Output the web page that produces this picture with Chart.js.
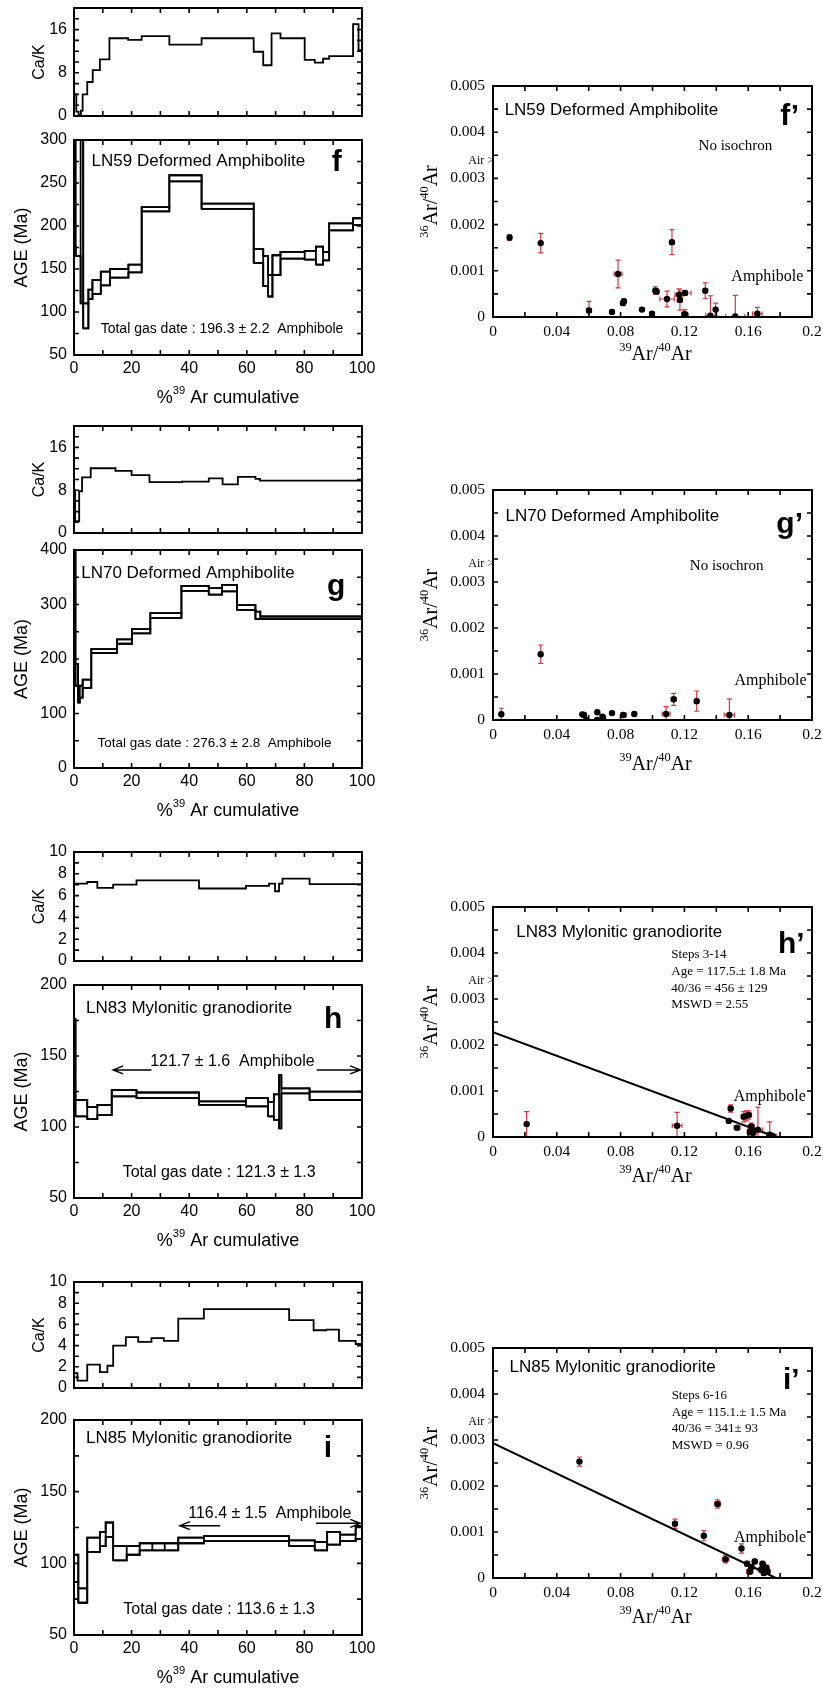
<!DOCTYPE html>
<html>
<head>
<meta charset="utf-8">
<script src="https://cdn.jsdelivr.net/npm/chart.js@4.4.1/dist/chart.umd.min.js"></script>
<style>
  html, body { margin: 0; padding: 0; background: #fff; }
  #page { position: relative; width: 823px; height: 1690px; overflow: hidden; background: #fff; }
  canvas { position: absolute; }
</style>
</head>
<body>
<div id="page"></div>
<script>
// ---- LN59 (f) ----
const fCaEdges = [0, 0.8, 1.6, 2.4, 3.0, 4.6, 6.5, 9.0, 12.3, 18.8, 23.5, 33.1, 44.3, 62.4, 65.7, 68.6, 71.7, 80.1, 83.6, 86.5, 88.6, 96.9, 98.8, 100];
const fCaValues = [4.0, 0.8, 0.2, 1.0, 4.0, 6.3, 8.5, 10.5, 14.4, 14.1, 14.8, 13.2, 14.4, 11.9, 9.4, 15.3, 14.4, 10.4, 9.9, 10.6, 11.1, 17.0, 12.2];
const fAgeEdges = [0, 0.6, 2.3, 3.2, 5.0, 6.4, 9.3, 12.5, 18.9, 23.5, 33.1, 44.3, 62.4, 65.7, 67.4, 68.9, 71.7, 80.1, 84.0, 86.5, 88.6, 96.9, 100];
const fAgeLow = [175, 165, 110, 81, 115, 121, 131, 140, 146, 217, 252, 220, 157, 130, 118, 143, 162, 161, 155, 160, 195, 201];
const fAgeHigh = [330, 330, 330, 110, 126, 137, 147, 150, 155, 222, 259, 226, 173, 165, 143, 166, 170, 171, 176, 170, 203, 209];
const fIsoX = [0.0104, 0.0299, 0.0602, 0.0746, 0.0784, 0.0815, 0.0821, 0.0934, 0.0997, 0.1018, 0.1026, 0.1091, 0.1122, 0.1166, 0.1172, 0.1204, 0.1200, 0.1206, 0.1331, 0.1363, 0.1396, 0.1519, 0.1657];
const fIsoY = [0.00172, 0.00160, 0.00014, 0.00011, 0.00093, 0.00030, 0.00034, 0.00016, 0.00007, 0.00057, 0.00055, 0.00039, 0.00162, 0.00048, 0.00037, 0.00052, 0.00006, 0.00005, 0.00057, 0.00003, 0.00016, 0.00001, 0.00007];
const fIsoXErr = [0.0008, 0.0005, 0.0015, 0.0008, 0.0025, 0.0008, 0.0008, 0.0012, 0.0008, 0.0012, 0.0012, 0.0045, 0.0015, 0.0025, 0.0015, 0.0038, 0.0015, 0.0015, 0.0012, 0.0030, 0.0010, 0.0060, 0.0030];
const fIsoYErr = [0.00006, 0.00021, 0.00020, 0.00004, 0.00030, 0.00005, 0.00005, 0.00004, 0.00004, 0.00008, 0.00006, 0.00017, 0.00027, 0.00013, 0.00022, 0.00005, 0.00010, 0.00005, 0.00017, 0.00043, 0.00014, 0.00046, 0.00014];

// ---- LN70 (g) ----
const gCaEdges = [0, 0.4, 1.8, 2.8, 5.8, 14.4, 20.0, 26.2, 37.5, 46.8, 51.6, 56.9, 63.0, 64.6, 100];
const gCaValues = [8.0, 2.2, 7.8, 10.4, 12.1, 11.6, 10.8, 9.5, 9.6, 10.2, 9.1, 10.5, 10.1, 9.8];
const gAgeEdges = [0, 0.5, 1.4, 2.0, 3.0, 6.0, 14.9, 20.1, 26.5, 37.3, 46.8, 51.4, 56.6, 63.0, 64.7, 100];
const gAgeLow = [190, 151, 120, 129, 147, 211, 228, 247, 275, 325, 318, 324, 290, 273, 273];
const gAgeHigh = [420, 191, 150, 151, 162, 218, 236, 255, 284, 334, 330, 336, 299, 287, 278];
const gIsoX = [0.0052, 0.0299, 0.0560, 0.0570, 0.0585, 0.0654, 0.0652, 0.0686, 0.0690, 0.0746, 0.0817, 0.0886, 0.1085, 0.1133, 0.1277, 0.1482];
const gIsoY = [0.000125, 0.00143, 0.000123, 0.00011, 0.0, 0.000167, 0.0, 0.00007, 0.00004, 0.00015, 0.00011, 0.00013, 0.00013, 0.00045, 0.00041, 0.00011];
const gIsoXErr = [0.0006, 0.0006, 0.0010, 0.0015, 0.0008, 0.0008, 0.0008, 0.0012, 0.0008, 0.0010, 0.0018, 0.0012, 0.0025, 0.0015, 0.0012, 0.0032];
const gIsoYErr = [0.00013, 0.00020, 0.00003, 0.00003, 0.00003, 0.00003, 0.00003, 0.00005, 0.00004, 0.00003, 0.00004, 0.00003, 0.00016, 0.00013, 0.00022, 0.00035];

// ---- LN83 (h) ----
const hCaEdges = [0, 4.6, 8.1, 13.6, 21.7, 43.4, 59.7, 67.7, 69.8, 71.2, 72.4, 81.8, 100];
const hCaValues = [7.1, 7.25, 6.7, 7.0, 7.4, 6.65, 6.9, 7.1, 6.4, 7.1, 7.55, 7.05];
const hAgeEdges = [0, 0.5, 4.6, 8.1, 13.1, 21.7, 43.4, 59.7, 67.4, 69.4, 71.2, 72.0, 81.8, 100];
const hAgeLow = [122, 107.5, 105.5, 108.6, 121.5, 120.3, 115.6, 114.5, 107.5, 105, 99, 123.7, 119];
const hAgeHigh = [176, 119, 114, 115.5, 126, 124.3, 118, 120.3, 117.7, 123, 136.5, 127.2, 124.9];
const hIsoX = [0.0211, 0.1154, 0.1478, 0.1490, 0.1530, 0.1572, 0.1588, 0.1603, 0.1620, 0.1610, 0.1630, 0.1661, 0.1735, 0.1755];
const hIsoY = [0.00028, 0.000246, 0.00035, 0.00062, 0.00020, 0.00044, 0.00046, 0.00048, 0.00023, 0.00011, 0.00009, 0.00016, 0.00005, 0.00002];
const hIsoXErr = [0.0006, 0.0030, 0.0010, 0.0012, 0.0018, 0.0015, 0.0015, 0.0018, 0.0018, 0.0015, 0.0020, 0.0030, 0.0020, 0.0025];
const hIsoYErr = [0.00027, 0.00029, 0.00004, 0.00008, 0.00004, 0.00011, 0.00011, 0.00009, 0.00007, 0.00006, 0.00006, 0.00049, 0.00028, 0.00004];
const hLineX = [0, 0.1772];
const hLineY = [0.00228, 0];

// ---- LN85 (i) ----
const iCaEdges = [0, 1.2, 4.6, 9.0, 11.6, 13.6, 18.0, 22.3, 26.9, 31.2, 36.2, 45.1, 74.7, 83.2, 87.6, 92.0, 97.8, 100];
const iCaValues = [1.4, 0.7, 2.2, 1.5, 2.1, 4.0, 4.8, 4.35, 4.7, 4.45, 6.55, 7.45, 6.4, 5.45, 5.5, 4.45, 4.15];
const iAgeEdges = [0, 1.5, 4.6, 9.0, 11.0, 13.6, 18.3, 22.8, 27.2, 31.5, 36.2, 45.1, 74.7, 83.6, 87.9, 92.4, 97.8, 100];
const iAgeLow = [87, 72.5, 108, 112, 118.5, 102, 106, 109, 109, 109, 114, 115.5, 112, 109, 113, 115.5, 117];
const iAgeHigh = [106, 82.5, 118, 122, 128.5, 112, 112, 114, 114, 114, 118, 119, 116, 115, 122, 120, 126];
const iIsoX = [0.0542, 0.1141, 0.1322, 0.1408, 0.1458, 0.1558, 0.1593, 0.1610, 0.1620, 0.1641, 0.1683, 0.1690, 0.1694, 0.1698, 0.1714, 0.1721];
const iIsoY = [0.00253, 0.00118, 0.00092, 0.00161, 0.00041, 0.00064, 0.00031, 0.00014, 0.00024, 0.00036, 0.00018, 0.00031, 0.00027, 0.00011, 0.00022, 0.00014];
const iIsoXErr = [0.0008, 0.0012, 0.0010, 0.0018, 0.0020, 0.0012, 0.0015, 0.0020, 0.0015, 0.0015, 0.0020, 0.0015, 0.0015, 0.0015, 0.0015, 0.0015];
const iIsoYErr = [0.00010, 0.00010, 0.00011, 0.00009, 0.00008, 0.00010, 0.00005, 0.00006, 0.00005, 0.00005, 0.00006, 0.00005, 0.00005, 0.00005, 0.00006, 0.00006];
const iLineX = [0, 0.1773];
const iLineY = [0.00293, 0];

const AIR_RATIO = 1 / 295.5;

const SANS = '"Liberation Sans", Arial, Helvetica, sans-serif';
const SERIF = '"Liberation Serif", "Times New Roman", serif';

// --- helpers ---
function fmt(v) {
    return String(parseFloat(v.toPrecision(6)));
}

function axis(min, max, step, major, font, pad) {
    return {
        type: 'linear',
        min: min,
        max: max,
        grid: { display: false, drawTicks: false },
        border: { display: false },
        ticks: {
            stepSize: step,
            autoSkip: false,
            padding: pad,
            color: '#000',
            font: font,
            maxRotation: 0,
            minRotation: 0,
            callback: (v) => (major && Math.abs(v / major - Math.round(v / major)) < 1e-6) ? fmt(v) : ''
        }
    };
}

// one point per step start, plus the closing edge
function stepPoints(edges, values) {
    const pts = values.map((v, i) => ({ x: edges[i], y: v }));
    pts.push({ x: edges[edges.length - 1], y: values[values.length - 1] });
    return pts;
}

// closed outline of every plateau step
function spectrumPoints(edges, low, high) {
    const pts = [];
    for (let i = 0; i < low.length; i++) {
        pts.push({ x: edges[i], y: low[i] }, { x: edges[i], y: high[i] },
                 { x: edges[i + 1], y: high[i] }, { x: edges[i + 1], y: low[i] },
                 { x: edges[i], y: low[i] }, { x: edges[i + 1], y: null });
    }
    return pts;
}

function zipPoints(xs, ys) {
    return xs.map((x, i) => ({ x: x, y: ys[i] }));
}

function drawRich(ctx, parts, cx, cy, size, family) {
    const supSize = size * 0.62;
    let total = 0;
    const widths = parts.map(p => {
        ctx.font = (p[1] ? supSize : size) + 'px ' + family;
        const w = ctx.measureText(p[0]).width;
        total += w;
        return w;
    });
    let x = cx - total / 2;
    ctx.textAlign = 'left';
    ctx.textBaseline = 'middle';
    parts.forEach((p, i) => {
        ctx.font = (p[1] ? supSize : size) + 'px ' + family;
        ctx.fillText(p[0], x, p[1] ? cy - size * 0.38 : cy);
        x += widths[i];
    });
}

const decoPlugin = {
    id: 'deco',
    beforeDatasetsDraw(chart) {
        const { ctx, chartArea: a, scales: { x, y } } = chart;
        ctx.save();
        ctx.beginPath();
        ctx.rect(a.left, a.top, a.right - a.left, a.bottom - a.top);
        ctx.clip();
        ctx.strokeStyle = '#d8383e';
        ctx.lineWidth = 1.2;
        chart.data.datasets.forEach(ds => {
            if (!ds.errX) return;
            ds.data.forEach((p, i) => {
                const px = x.getPixelForValue(p.x), py = y.getPixelForValue(p.y);
                const x0 = x.getPixelForValue(p.x - ds.errX[i]), x1 = x.getPixelForValue(p.x + ds.errX[i]);
                const y0 = y.getPixelForValue(p.y - ds.errY[i]), y1 = y.getPixelForValue(p.y + ds.errY[i]);
                const c = 2.5;
                ctx.beginPath();
                ctx.moveTo(x0, py); ctx.lineTo(x1, py);
                ctx.moveTo(x0, py - c); ctx.lineTo(x0, py + c);
                ctx.moveTo(x1, py - c); ctx.lineTo(x1, py + c);
                ctx.moveTo(px, y0); ctx.lineTo(px, y1);
                ctx.moveTo(px - c, y0); ctx.lineTo(px + c, y0);
                ctx.moveTo(px - c, y1); ctx.lineTo(px + c, y1);
                ctx.stroke();
            });
        });
        ctx.restore();
    },
    afterDatasetsDraw(chart) {
        const { ctx, chartArea: a, scales: { x, y } } = chart;
        const L = 5;
        ctx.save();
        ctx.strokeStyle = '#000';
        ctx.lineWidth = 2;
        ctx.strokeRect(a.left, a.top, a.right - a.left, a.bottom - a.top);
        ctx.lineWidth = 1.6;
        ctx.beginPath();
        x.ticks.forEach(t => {
            const px = x.getPixelForValue(t.value);
            if (px <= a.left + 1 || px >= a.right - 1) return;
            ctx.moveTo(px, a.bottom); ctx.lineTo(px, a.bottom - L);
            ctx.moveTo(px, a.top); ctx.lineTo(px, a.top + L);
        });
        y.ticks.forEach(t => {
            const py = y.getPixelForValue(t.value);
            if (py <= a.top + 1 || py >= a.bottom - 1) return;
            ctx.moveTo(a.left, py); ctx.lineTo(a.left + L, py);
            ctx.moveTo(a.right, py); ctx.lineTo(a.right - L, py);
        });
        ctx.stroke();
        ctx.restore();
    },
    afterDraw(chart) {
        const d = chart.canvas._deco || {};
        const { ctx, chartArea: a, scales: { x, y } } = chart;
        ctx.save();
        ctx.fillStyle = '#000';
        ctx.strokeStyle = '#000';
        if (d.yTitle) {
            ctx.save();
            ctx.translate(a.left - d.yTitle.offset, (a.top + a.bottom) / 2);
            ctx.rotate(-Math.PI / 2);
            drawRich(ctx, d.yTitle.parts, 0, 0, d.yTitle.size, d.yTitle.family);
            ctx.restore();
        }
        if (d.xTitle) {
            drawRich(ctx, d.xTitle.parts, (a.left + a.right) / 2 + (d.xTitle.shift || 0),
                     a.bottom + d.xTitle.offset, d.xTitle.size, d.xTitle.family);
        }
        (d.texts || []).forEach(t => {
            ctx.font = (t.weight || 'normal') + ' ' + t.size + 'px ' + t.family;
            ctx.textAlign = t.align || 'center';
            ctx.textBaseline = 'middle';
            ctx.fillText(t.text, x.getPixelForValue(t.x), y.getPixelForValue(t.y));
        });
        (d.arrows || []).forEach(ar => {
            const x1 = x.getPixelForValue(ar.from), x2 = x.getPixelForValue(ar.to);
            const py = y.getPixelForValue(ar.y);
            const dir = Math.sign(x2 - x1);
            ctx.lineWidth = 1.5;
            ctx.beginPath();
            ctx.moveTo(x1, py); ctx.lineTo(x2, py);
            ctx.moveTo(x2 - dir * 10, py - 4); ctx.lineTo(x2, py); ctx.lineTo(x2 - dir * 10, py + 4);
            ctx.stroke();
        });
        if (d.air) {
            ctx.font = '12px ' + SERIF;
            ctx.textAlign = 'right';
            ctx.textBaseline = 'middle';
            ctx.fillText('Air >', a.left + 1, y.getPixelForValue(d.air));
        }
        ctx.restore();
    }
};

function makeChart(box, pad, xAxis, yAxis, datasets, deco) {
    const canvas = document.createElement('canvas');
    const w = box.w + pad.l + pad.r, h = box.h + pad.t + pad.b;
    canvas.width = w;
    canvas.height = h;
    canvas.style.left = (box.x - pad.l) + 'px';
    canvas.style.top = (box.y - pad.t) + 'px';
    canvas.style.width = w + 'px';
    canvas.style.height = h + 'px';
    document.getElementById('page').appendChild(canvas);
    canvas._deco = deco;
    xAxis.afterFit = s => { s.height = pad.b; s.paddingLeft = s.paddingRight = s.paddingTop = s.paddingBottom = 0; };
    yAxis.afterFit = s => { s.width = pad.l; s.paddingLeft = s.paddingRight = s.paddingTop = s.paddingBottom = 0; };
    return new Chart(canvas, {
        type: 'scatter',
        data: { datasets: datasets },
        options: {
            responsive: false,
            animation: false,
            devicePixelRatio: 1,
            layout: { padding: { left: 0, right: pad.r, top: pad.t, bottom: 0 } },
            plugins: { legend: { display: false }, tooltip: { enabled: false } },
            scales: { x: xAxis, y: yAxis }
        },
        plugins: [decoPlugin]
    });
}

// --- left column: Ca/K and age spectra ---
const LEFT_X = 74, LEFT_W = 288;
const tickSans = { family: SANS, size: 16 };
const caPad = { l: 74, r: 30, t: 10, b: 8 };
const agePad = { l: 74, r: 30, t: 12, b: 58 };
const cumTitle = { parts: [['%', false], ['39', true], [' Ar cumulative', false]], size: 18, family: SANS, offset: 43, shift: 10 };

function caChart(top, height, edges, values, yMax, yStep, yMajor) {
    makeChart({ x: LEFT_X, y: top, w: LEFT_W, h: height }, caPad,
        axis(0, 100, 10, null, tickSans, 4),
        axis(0, yMax, yStep, yMajor, tickSans, 7),
        [{ data: stepPoints(edges, values), showLine: true, stepped: 'before', borderColor: '#000', borderWidth: 1.8, pointRadius: 0 }],
        { yTitle: { parts: [['Ca/K', false]], size: 16, family: SANS, offset: 34 } });
}

function ageChart(top, height, edges, low, high, yMin, yMax, yStep, yMajor, texts, arrows) {
    const line = { showLine: true, borderColor: '#000', borderWidth: 1.8, pointRadius: 0 };
    makeChart({ x: LEFT_X, y: top, w: LEFT_W, h: height }, agePad,
        axis(0, 100, 10, 20, tickSans, 4),
        axis(yMin, yMax, yStep, yMajor, tickSans, 7),
        [
            Object.assign({ data: stepPoints(edges, high), stepped: 'before' }, line),
            Object.assign({ data: stepPoints(edges, low), stepped: 'before' }, line),
            Object.assign({ data: spectrumPoints(edges, low, high), spanGaps: false }, line)
        ],
        { yTitle: { parts: [['AGE (Ma)', false]], size: 18, family: SANS, offset: 52 }, xTitle: cumTitle, texts: texts, arrows: arrows || [] });
}

function label(x, y, text, size, align, family, weight) {
    return { x: x, y: y, text: text, size: size, align: align || 'center', family: family || SANS, weight: weight || 'normal' };
}

caChart(8, 108, fCaEdges, fCaValues, 20, 2, 8);
ageChart(140, 215, fAgeEdges, fAgeLow, fAgeHigh, 50, 300, 25, 50, [
    label(6.1, 275.6, 'LN59 Deformed Amphibolite', 17, 'left'),
    label(91.2, 273, 'f', 30, 'center', SANS, 'bold'),
    label(51.4, 79.8, 'Total gas date : 196.3 \u00b1 2.2  Amphibole', 14)
]);

caChart(426, 107, gCaEdges, gCaValues, 20, 2, 8);
ageChart(550, 218, gAgeEdges, gAgeLow, gAgeHigh, 0, 400, 50, 100, [
    label(2.5, 358, 'LN70 Deformed Amphibolite', 17, 'left'),
    label(91, 333, 'g', 30, 'center', SANS, 'bold'),
    label(48.8, 46, 'Total gas date : 276.3 \u00b1 2.8  Amphibole', 13.5)
]);

caChart(852, 109, hCaEdges, hCaValues, 10, 1, 2);
ageChart(985, 213, hAgeEdges, hAgeLow, hAgeHigh, 50, 200, 25, 50, [
    label(4.2, 183.6, 'LN83 Mylonitic granodiorite', 17, 'left'),
    label(90, 175.4, 'h', 30, 'center', SANS, 'bold'),
    label(55, 146, '121.7 \u00b1 1.6  Amphibole', 16),
    label(50.4, 68, 'Total gas date : 121.3 \u00b1 1.3', 16)
], [{ from: 26.9, to: 13.6, y: 140.2 }, { from: 84.3, to: 99.4, y: 140.2 }]);

caChart(1282, 106, iCaEdges, iCaValues, 10, 1, 2);
ageChart(1420, 215, iAgeEdges, iAgeLow, iAgeHigh, 50, 200, 25, 50, [
    label(4.2, 187, 'LN85 Mylonitic granodiorite', 17, 'left'),
    label(88.2, 180, 'i', 30, 'center', SANS, 'bold'),
    label(68, 134.9, '116.4 \u00b1 1.5  Amphibole', 16),
    label(50.4, 67.4, 'Total gas date : 113.6 \u00b1 1.3', 16)
], [{ from: 50.8, to: 36.8, y: 126.3 }, { from: 84, to: 99.4, y: 127.9 }]);

// --- right column: inverse isochrons ---
const RIGHT_X = 493, RIGHT_W = 319;
const tickSerif = { family: SERIF, size: 15.5 };
const isoPad = { l: 93, r: 11, t: 14, b: 58 };

function isoChart(top, height, xs, ys, xErr, yErr, lineX, lineY, texts, titleOffset) {
    const datasets = [{
        data: zipPoints(xs, ys), errX: xErr, errY: yErr,
        pointRadius: 3.2, pointBackgroundColor: '#000', pointBorderWidth: 0, showLine: false
    }];
    if (lineX) {
        datasets.push({ data: zipPoints(lineX, lineY), showLine: true, borderColor: '#000', borderWidth: 2, pointRadius: 0 });
    }
    makeChart({ x: RIGHT_X, y: top, w: RIGHT_W, h: height }, isoPad,
        axis(0, 0.2, 0.02, 0.04, tickSerif, 6),
        axis(0, 0.005, 0.0005, 0.001, tickSerif, 8),
        datasets,
        {
            yTitle: { parts: [['36', true], ['Ar/', false], ['40', true], ['Ar', false]], size: 20, family: SERIF, offset: 61 },
            xTitle: { parts: [['39', true], ['Ar/', false], ['40', true], ['Ar', false]], size: 20, family: SERIF, offset: titleOffset, shift: 3 },
            texts: texts,
            air: AIR_RATIO
        });
}

isoChart(86, 231, fIsoX, fIsoY, fIsoXErr, fIsoYErr, null, null, [
    label(0.0073, 0.00448, 'LN59 Deformed Amphibolite', 17, 'left'),
    label(0.186, 0.00434, 'f\u2019', 30, 'center', SANS, 'bold'),
    label(0.152, 0.00369, 'No isochron', 15, 'center', SERIF),
    label(0.172, 0.00088, 'Amphibole', 16, 'center', SERIF)
], 38);

isoChart(490, 230, gIsoX, gIsoY, gIsoXErr, gIsoYErr, null, null, [
    label(0.0079, 0.00443, 'LN70 Deformed Amphibolite', 17, 'left'),
    label(0.186, 0.00424, 'g\u2019', 30, 'center', SANS, 'bold'),
    label(0.1465, 0.00335, 'No isochron', 15, 'center', SERIF),
    label(0.174, 0.00085, 'Amphibole', 16, 'center', SERIF)
], 45);

isoChart(907, 230, hIsoX, hIsoY, hIsoXErr, hIsoYErr, hLineX, hLineY, [
    label(0.0146, 0.00446, 'LN83 Mylonitic granodiorite', 17, 'left'),
    label(0.187, 0.00417, 'h\u2019', 30, 'center', SANS, 'bold'),
    label(0.1118, 0.00397, 'Steps 3-14', 13, 'left', SERIF),
    label(0.1118, 0.00359, 'Age = 117.5.\u00b1 1.8 Ma', 13, 'left', SERIF),
    label(0.1118, 0.00323, '40/36 = 456 \u00b1 129', 13, 'left', SERIF),
    label(0.1118, 0.00288, 'MSWD = 2.55', 13, 'left', SERIF),
    label(0.1735, 0.00087, 'Amphibole', 16, 'center', SERIF)
], 40);

isoChart(1348, 230, iIsoX, iIsoY, iIsoXErr, iIsoYErr, iLineX, iLineY, [
    label(0.0104, 0.00457, 'LN85 Mylonitic granodiorite', 17, 'left'),
    label(0.187, 0.00428, 'i\u2019', 30, 'center', SANS, 'bold'),
    label(0.112, 0.00396, 'Steps 6-16', 13, 'left', SERIF),
    label(0.112, 0.00360, 'Age = 115.1.\u00b1 1.5 Ma', 13, 'left', SERIF),
    label(0.112, 0.00324, '40/36 = 341\u00b1 93', 13, 'left', SERIF),
    label(0.112, 0.00288, 'MSWD = 0.96', 13, 'left', SERIF),
    label(0.1737, 0.00087, 'Amphibole', 16, 'center', SERIF)
], 40);
</script>
</body>
</html>
